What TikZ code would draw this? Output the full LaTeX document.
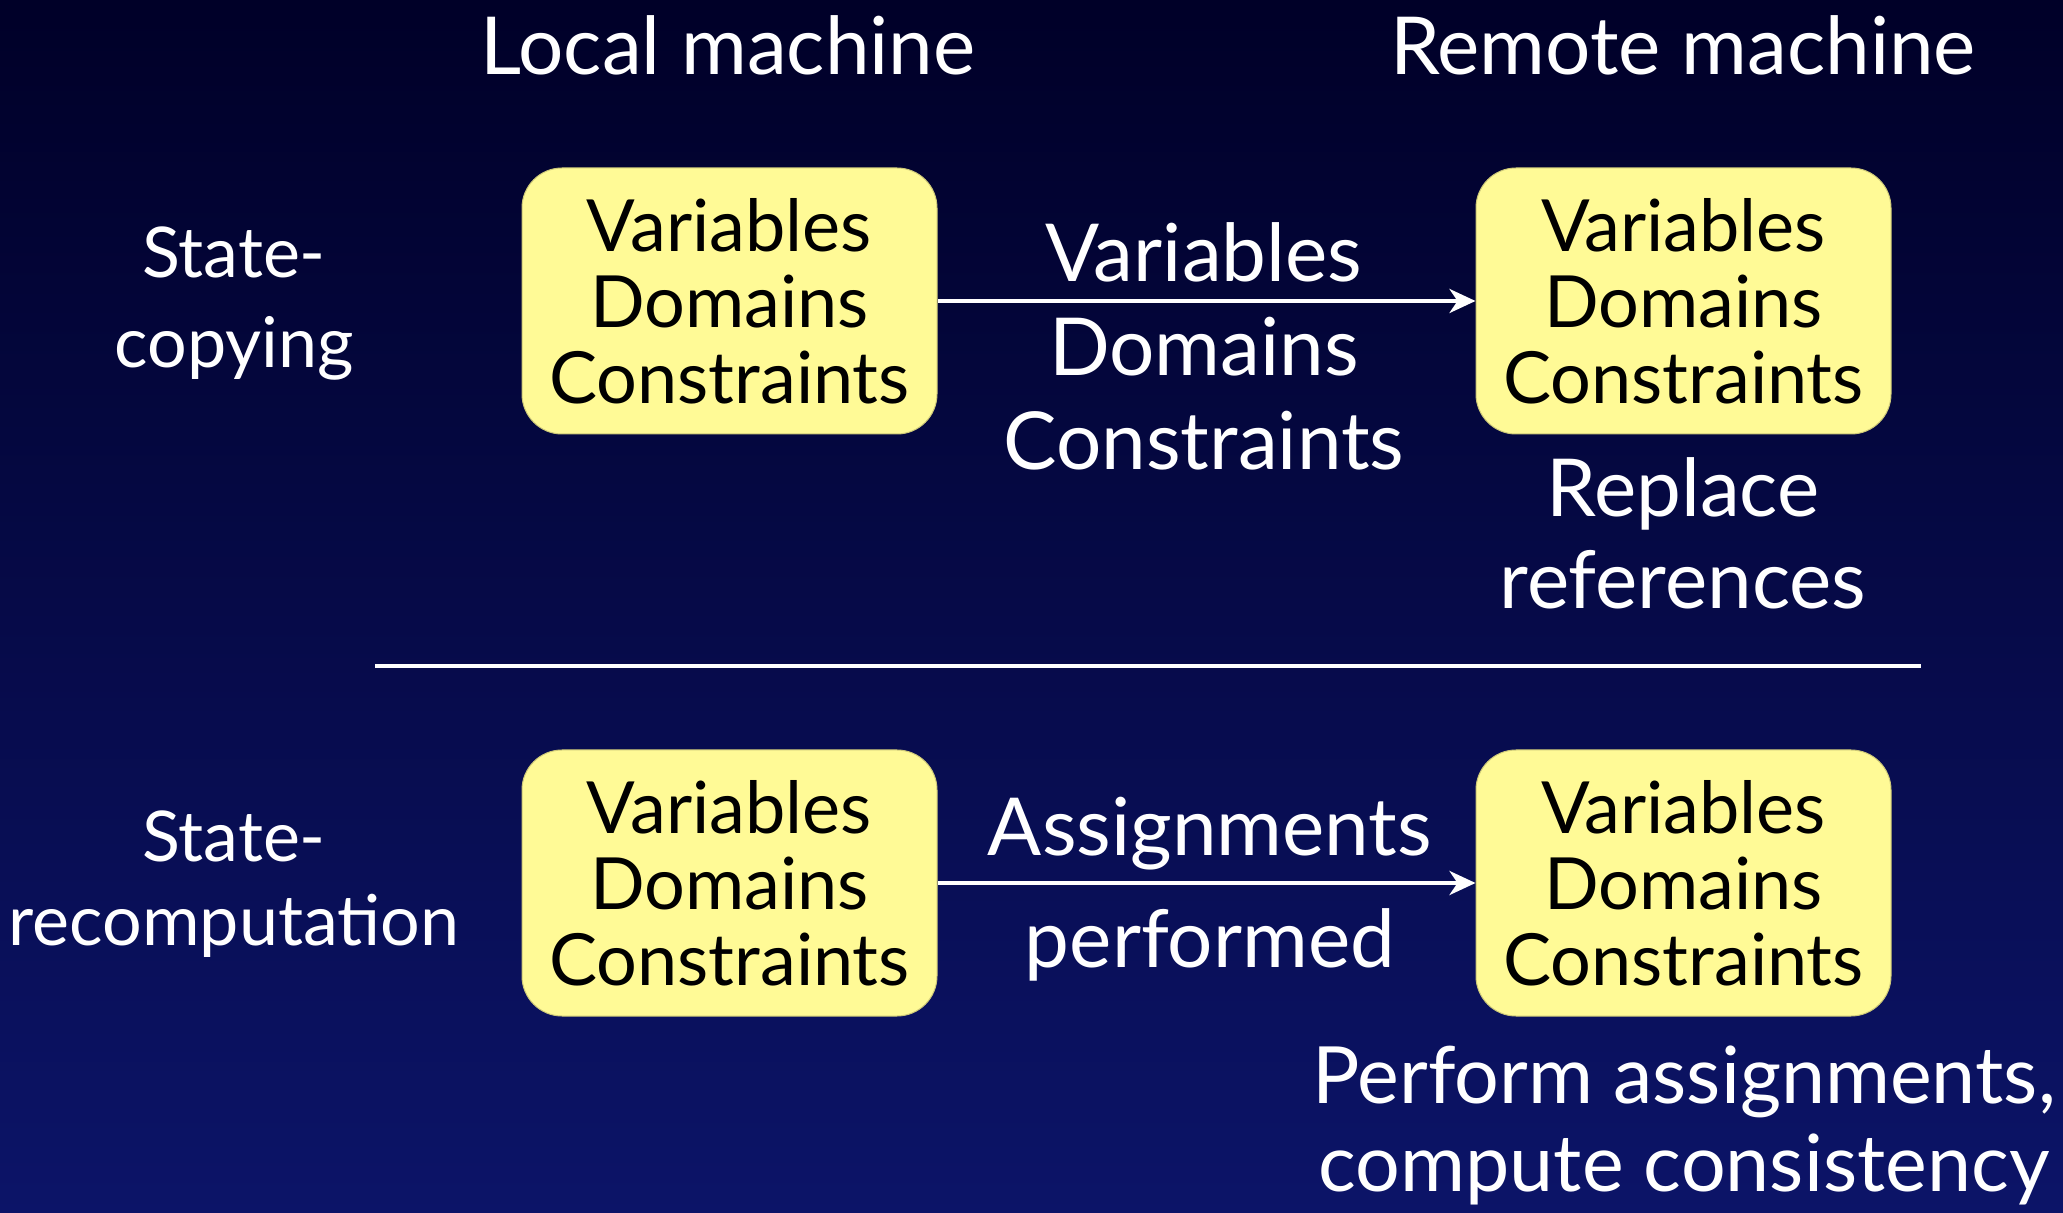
\documentclass[tikz,border=0pt]{standalone}
\usepackage{fontspec}
\setmainfont{Lato}
\usetikzlibrary{arrows.meta}
\definecolor{bgtop}{RGB}{0,0,40}
\definecolor{bgbot}{RGB}{12,20,104}
\definecolor{boxfill}{RGB}{255,250,150}
\definecolor{boxedge}{RGB}{205,200,120}
\tikzset{
  statebox/.style={draw=boxedge, line width=0.5pt, fill=boxfill, rounded corners=20pt,
    minimum width=207.5pt, minimum height=133pt, align=center, text=black,
    font=\fontsize{36}{38}\selectfont, inner sep=0pt},
  % multi-line labels: the base anchor sits on the last line's baseline
  lbl/.style={text=white, align=center, anchor=base, inner sep=0pt},
  flow/.style={draw=white, line width=2pt, -{Stealth[length=13pt,width=12pt,inset=4pt]}},
}
\begin{document}
\begin{tikzpicture}[x=0.5pt,y=-0.5pt]
  % backdrop
  \shade[top color=bgtop, bottom color=bgbot] (0,0) rectangle (2063,1213);
  \useasboundingbox (0,0) rectangle (2063,1213);

  % column headings
  \node[lbl, font=\fontsize{40}{45}\selectfont] (hlocal) at (728,75) {Local machine};
  \node[lbl, font=\fontsize{40}{45}\selectfont] (hremote) at (1683,75) {Remote machine};

  % row headings
  \node[lbl, font=\fontsize{35}{45}\selectfont] (rcopy) at (234,368) {State-\\copying};
  \node[lbl, font=\fontsize{35}{42}\selectfont] (rrecomp) at (234,945) {State-\\recomputation};

  % state-copying row
  \node[statebox] (l1) at (729.5,301) {Variables\\Domains\\Constraints};
  \node[statebox] (r1) at (1683.5,301) {Variables\\Domains\\Constraints};
  \draw[flow] (l1.east) -- (r1.west);
  \node[lbl, font=\fontsize{40}{47}\selectfont] (m1) at (1204,470) {Variables\\Domains\\Constraints};
  \node[lbl, font=\fontsize{40}{46}\selectfont] (rep) at (1683,609) {Replace\\references};

  % separator
  \coordinate (sepa) at (375,666);
  \coordinate (sepb) at (1921,666);
  \draw[white, line width=2pt] (sepa) -- (sepb);

  % state-recomputation row
  \node[statebox] (l2) at (729.5,883) {Variables\\Domains\\Constraints};
  \node[statebox] (r2) at (1683.5,883) {Variables\\Domains\\Constraints};
  \draw[flow] (l2.east) -- (r2.west);
  \node[lbl, font=\fontsize{40}{56}\selectfont] (m2) at (1210,967) {Assignments\\performed};
  \node[lbl, font=\fontsize{39.5}{44}\selectfont] (perf) at (1684,1191) {Perform assignments,\\compute consistency};
\end{tikzpicture}
\end{document}
